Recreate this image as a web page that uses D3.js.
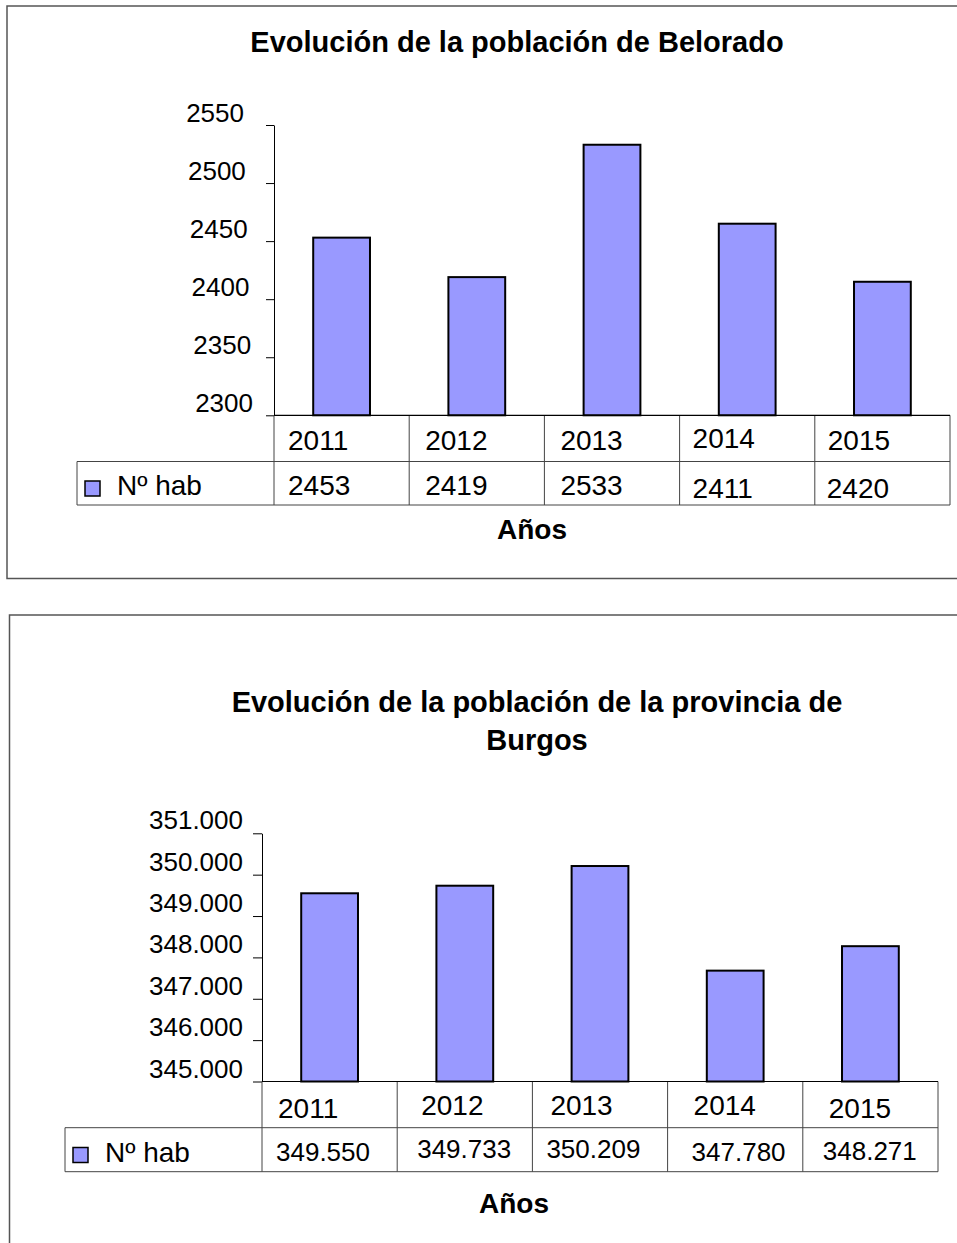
<!DOCTYPE html>
<html>
<head>
<meta charset="utf-8">
<script src="https://cdn.jsdelivr.net/npm/d3@7"></script>
<style>
  body { margin: 0; background: #fff; }
  svg { display: block; font-family: "Liberation Sans", Arial, sans-serif; }
</style>
</head>
<body>
<svg id="chart" width="957" height="1243"></svg>
<script>
// categories shared by both charts
const years = ["2011", "2012", "2013", "2014", "2015"];

// Belorado: bar heights as drawn, and the numbers printed in the data table
const beloradoBars = [2453, 2419, 2533, 2465, 2415];
const beloradoTable = ["2453", "2419", "2533", "2411", "2420"];
const beloradoTicks = [2300, 2350, 2400, 2450, 2500, 2550];

// provincia de Burgos
const burgosBars = [349550, 349733, 350209, 347680, 348271];
const burgosTable = ["349.550", "349.733", "350.209", "347.780", "348.271"];
const burgosTicks = [345000, 346000, 347000, 348000, 349000, 350000, 351000];

const seriesName = "Nº hab";
const axisTitle = "Años";
const barColor = "#9999ff";

// spanish number format (dot as thousands separator)
const es = d3.formatLocale({ decimal: ",", thousands: ".", grouping: [3], currency: ["", " €"] });

function drawChart(svg, c) {
  const g = svg.append("g");

  // frame around the chart
  g.append("rect")
    .attr("x", c.box.x).attr("y", c.box.y)
    .attr("width", c.box.w).attr("height", c.box.h)
    .attr("fill", "none").attr("stroke", "#555").attr("stroke-width", 1.5);

  c.title.forEach((t, i) => {
    g.append("text")
      .attr("x", c.titleX)
      .attr("y", c.titleY + i * 38)
      .attr("text-anchor", "middle")
      .attr("font-weight", "bold")
      .attr("font-size", 29)
      .text(t);
  });

  const x = d3.scaleBand().domain(years).range([c.left, c.right]);
  const y = d3.scaleLinear().domain(c.domain).range([c.bottom, c.top]);
  const barW = x.bandwidth() * 0.42;

  // bars
  g.selectAll("rect.bar")
    .data(c.bars)
    .join("rect")
    .attr("class", "bar")
    .attr("x", (d, i) => x(years[i]) + (x.bandwidth() - barW) / 2)
    .attr("y", (d) => y(d))
    .attr("width", barW)
    .attr("height", (d) => y(c.domain[0]) - y(d))
    .attr("fill", barColor)
    .attr("stroke", "#000")
    .attr("stroke-width", 2);

  // value axis
  const yAxis = d3.axisLeft(y)
    .tickValues(c.ticks)
    .tickSize(c.tickLen)
    .tickSizeOuter(0)
    .tickFormat(c.format);
  const ag = g.append("g")
    .attr("transform", `translate(${c.left},0)`)
    .call(yAxis)
    .attr("font-family", null)
    .attr("font-size", 26);
  ag.select(".domain").attr("stroke", "#000");
  ag.selectAll(".tick line").attr("stroke", "#000");
  ag.selectAll(".tick text")
    .attr("fill", "#000")
    .attr("dy", null)
    .attr("y", -c.labelLift)
    .attr("x", (d, i) => c.labelX(i));

  // data table under the plot
  const lines = g.append("g").attr("stroke", "#444").attr("stroke-width", 1);
  const cols = years.map((yr) => x(yr)).concat([c.right]);
  cols.forEach((cx) => {
    lines.append("line")
      .attr("x1", cx).attr("x2", cx)
      .attr("y1", c.bottom).attr("y2", c.tableBottom);
  });
  lines.append("line")
    .attr("x1", c.legendLeft).attr("x2", c.legendLeft)
    .attr("y1", c.headerBottom).attr("y2", c.tableBottom);
  [c.headerBottom, c.tableBottom].forEach((ly) => {
    lines.append("line")
      .attr("x1", c.legendLeft).attr("x2", c.right)
      .attr("y1", ly).attr("y2", ly);
  });
  // category axis line (also table top)
  g.append("line")
    .attr("x1", c.left).attr("x2", c.right)
    .attr("y1", y(c.domain[0])).attr("y2", y(c.domain[0]))
    .attr("stroke", "#000").attr("stroke-width", 1.2);

  // cell text is not quite aligned in the original, nudge per column
  g.selectAll("text.year")
    .data(years)
    .join("text")
    .attr("class", "year")
    .attr("x", (d, i) => x(d) + c.yearPad[i])
    .attr("y", (d, i) => c.yearBase[i])
    .attr("font-size", 28)
    .text((d) => d);

  g.selectAll("text.val")
    .data(c.table)
    .join("text")
    .attr("class", "val")
    .attr("x", (d, i) => x(years[i]) + c.valPad[i])
    .attr("y", (d, i) => c.valBase[i])
    .attr("font-size", c.valSize)
    .text((d) => d);

  // legend key in first cell
  g.append("rect")
    .attr("x", c.keyX).attr("y", c.keyY)
    .attr("width", 15).attr("height", 15)
    .attr("fill", barColor).attr("stroke", "#000").attr("stroke-width", 1.5);
  g.append("text")
    .attr("x", c.keyX + 32)
    .attr("y", c.keyY + 14)
    .attr("font-size", 28)
    .text(seriesName);

  g.append("text")
    .attr("x", c.axisTitleX)
    .attr("y", c.axisTitleY)
    .attr("text-anchor", "middle")
    .attr("font-weight", "bold")
    .attr("font-size", 28)
    .text(axisTitle);
}

const svg = d3.select("#chart");

drawChart(svg, {
  box: { x: 7, y: 6, w: 1000, h: 572.5 },
  title: ["Evolución de la población de Belorado"],
  titleX: 517, titleY: 52,
  domain: [2300, 2550],
  ticks: beloradoTicks,
  bars: beloradoBars,
  table: beloradoTable,
  format: d3.format("d"),
  left: 274, right: 950, top: 125, bottom: 415.3,
  tickLen: 8,
  labelLift: 4,
  labelX: (i) => -21 - i * 1.8,
  headerBottom: 461.5, tableBottom: 505, legendLeft: 77,
  keyX: 85, keyY: 481,
  yearPad: [14, 16, 16, 13, 13], yearBase: [450, 450, 450, 448, 450],
  valPad: [14, 16, 16, 13, 12], valBase: [495, 495, 495, 498, 498], valSize: 28,
  axisTitleX: 532, axisTitleY: 539
});

drawChart(svg, {
  box: { x: 9.5, y: 615, w: 1000, h: 700 },
  title: ["Evolución de la población de la provincia de", "Burgos"],
  titleX: 537, titleY: 712,
  domain: [345000, 351000],
  ticks: burgosTicks,
  bars: burgosBars,
  table: burgosTable,
  format: es.format(","),
  left: 262, right: 938, top: 833.3, bottom: 1081.5,
  tickLen: 9,
  labelLift: 4.5,
  labelX: () => -19,
  headerBottom: 1127.7, tableBottom: 1171.7, legendLeft: 65,
  keyX: 73, keyY: 1147.5,
  yearPad: [16, 24, 18, 26, 26], yearBase: [1118, 1115, 1115, 1115, 1118],
  valPad: [14, 20, 14, 24, 20], valBase: [1161, 1158, 1158, 1161, 1160], valSize: 26,
  axisTitleX: 514, axisTitleY: 1213
});
</script>
</body>
</html>
